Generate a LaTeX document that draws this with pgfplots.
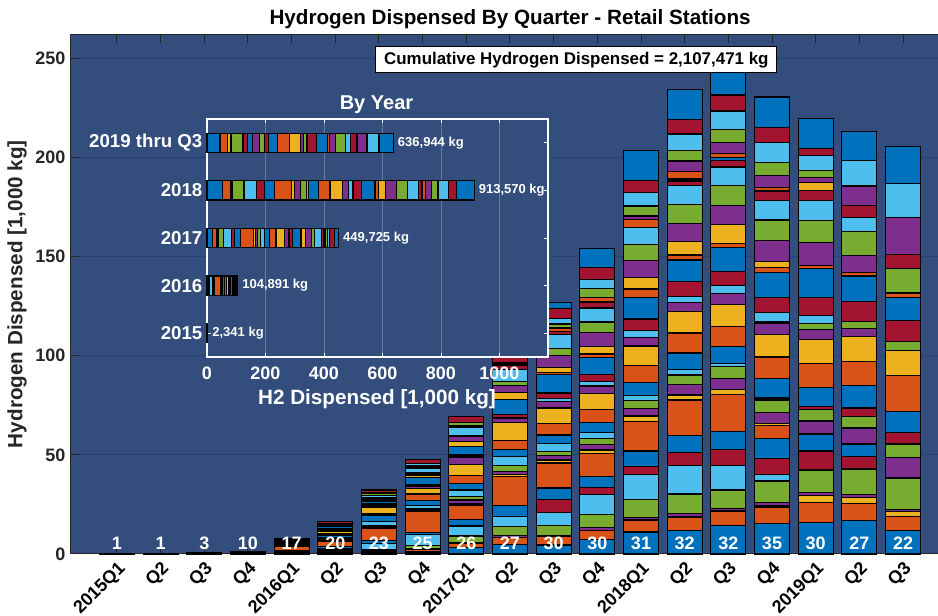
\documentclass[border=0pt]{standalone}
\usepackage{pgfplots}
\usepackage{pgfplotstable}
\pgfplotsset{compat=1.18}
\usepackage{fontspec}
\setmainfont{Liberation Sans}
\newcommand\fs[1]{\fontsize{#1}{#1}\selectfont\bfseries}
\definecolor{bgcol}{RGB}{51,77,125}
\definecolor{gridcol}{RGB}{44,66,108}
\definecolor{igridcol}{RGB}{104,122,160}
\definecolor{tickcol}{RGB}{38,38,38}
\definecolor{mB}{RGB}{0,114,189}
\definecolor{mO}{RGB}{217,83,25}
\definecolor{mY}{RGB}{237,177,32}
\definecolor{mP}{RGB}{126,47,142}
\definecolor{mG}{RGB}{119,172,48}
\definecolor{mL}{RGB}{77,190,238}
\definecolor{mR}{RGB}{162,20,47}
\colorlet{st1}{mB}\colorlet{st2}{mO}\colorlet{st3}{mY}\colorlet{st4}{mP}\colorlet{st5}{mG}\colorlet{st6}{mL}\colorlet{st7}{mR}
\colorlet{st8}{mB}\colorlet{st9}{mO}\colorlet{st10}{mY}\colorlet{st11}{mP}\colorlet{st12}{mG}\colorlet{st13}{mL}\colorlet{st14}{mR}
\colorlet{st15}{mB}\colorlet{st16}{mO}\colorlet{st17}{mY}\colorlet{st18}{mP}\colorlet{st19}{mG}\colorlet{st20}{mL}\colorlet{st21}{mR}
\colorlet{st22}{mB}\colorlet{st23}{mO}\colorlet{st24}{mY}\colorlet{st25}{mP}\colorlet{st26}{mG}\colorlet{st27}{mL}\colorlet{st28}{mR}
\colorlet{st29}{mB}\colorlet{st30}{mO}\colorlet{st31}{mY}\colorlet{st32}{mP}\colorlet{st33}{mG}\colorlet{st34}{mL}\colorlet{st35}{mR}
\colorlet{st36}{mB}

% quarterly hydrogen dispensed per station [1,000 kg]
\pgfplotstableread{
q s1 s2 s3 s4 s5 s6 s7 s8 s9 s10 s11 s12 s13 s14 s15 s16 s17 s18 s19 s20 s21 s22 s23 s24 s25 s26 s27 s28 s29 s30 s31 s32 s33 s34 s35 s36
0  0.25 0 0 0 0 0 0  0 0 0 0 0 0 0  0 0 0 0 0 0 0  0 0 0 0 0 0 0  0 0 0 0 0 0 0  0
1  0.35 0 0 0 0 0 0  0 0 0 0 0 0 0  0 0 0 0 0 0 0  0 0 0 0 0 0 0  0 0 0 0 0 0 0  0
2  0.25 0.15 0 0 0.15 0 0  0 0 0 0 0 0 0  0 0 0 0 0 0 0  0 0 0 0 0 0 0  0 0 0 0 0 0 0  0
3  0.2 0.15 0 0 0.1 0.1 0  0.1 0.2 0 0.1 0.1 0.1 0  0.05 0 0 0 0 0 0  0 0 0 0 0 0 0  0 0 0 0 0 0 0  0
4  0.3 0.4 0 0 0.5 0.4 0  0.3 1.7 0 0.3 0.4 0.3 0  0.4 0.5 0.4 0.3 0 0 0.3  0.4 0 0 0 0 0.3 0  0 0 0 0 0 0 0.4  0
5  0.5 0.6 0 0 0.6 0.8 0  1.4 2.7 0 0.4 0.5 0.6 0  1.5 0.6 1.3 0.5 0 0.4 0.6  0.7 0 0 0.5 0 0.6 0  0 0 0 0 0 0.5 0.9  0
6  0.6 0.6 0 0 0.8 3.2 0  1.7 6.2 0 0.5 0.5 2.2 0  3.4 0.6 3 0.6 0 0.7 0.6  1.5 0 0.6 0.6 0.7 0.8 0  0 0 0 0 1 0.6 1.3  0
7  1.0 1.2 0 0.5 1.5 5.5 0  1.2 10.7 0 0.6 0.8 1.3 0  2.5 3.4 3 0.7 0 0.6 0.6  3.5 0 1.2 0.7 0.6 2.2 0.7  0 0 0 0 0.7 0.8 2  0
8  3.2 2.2 0 0.5 3.2 4.6 0.6  2.9 7.5 0.5 2 1.7 3.4 0  3.4 3.9 5.5 3.4 0 0.6 0.8  4.2 0 2.5 2.5 0.7 4.2 0.6  0 0 0 0 1.7 0 2.9  0
9  4.9 3.4 0 1 4.5 5 0  5.6 14.5 1.2 1.3 3.2 4.4 0  3.7 4.5 8.9 2.5 0 0 1.7  7.6 0 3.7 3.5 2 5.9 2.2  0 0.5 0 0 0.5 0.5 2.7  0.5
10 4.5 4.2 0 0.6 5 6.7 6.4  5.9 12.6 1.5 2.2 2 3.9 0  4.5 5.9 7.7 3.2 0 1.7 2.7  9.1 1.3 2.5 5.9 3.4 7.1 1.7  0 1.7 0 0 2 2.7 5.1  3
11 7.4 4.5 0 1.3 6.7 10.1 3.4  5.6 11.5 1.9 2.7 3 3 0  5.1 6.7 8.1 3.7 0 2.2 3.4  8.8 1.7 3.9 7.1 5.1 7.1 3  0 2.5 0 0 4.2 4.7 5.9  9.6
12 11.1 5.9 0.3 1.2 8.8 12.6 4.4  7.6 15 2.7 3.7 4.2 2.5 0  6.4 8.8 9.6 4.4 0 3.4 5.9  10.9 4.2 5.7 8.6 8.2 8.4 0  0 4.2 0 1.7 5 6.7 6.1  15
13 12 6.7 0 1.7 9.8 14.6 6.4  8.4 18 2.5 5.2 4.9 3 0  8.1 10.1 10.9 4.5 0 3 7.6  10.8 2.5 6.7 9.3 9.3 9.6 2.4  1 3.7 0 5.4 5.2 8.4 7.4  15.2
14 14.5 7.2 0 1.2 9.4 12.5 7.7  9.4 18.7 2.5 5.4 6.1 1.3 0  8.6 10.3 10.8 5.6 0 4.2 7.2  12.1 2 9.3 9.6 10.1 9.4 3.4  1.3 2 0 5.6 6.6 9.3 8.1  14.6
15 15.3 8.4 0.5 1.7 10.9 3.4 8.1  10.1 6.2 1.2 5.6 6.2 0.6 0.4  9.8 10.9 11.4 5.7 0.5 4.7 7.9  12.5 2.5 2.9 10.6 10.4 9.8 4.5  0.5 1.7 0 5.9 6.4 10.1 7.6  15.5
16 15.8 10.1 3.7 1.3 11.4 0 9.6  8.4 0.5 0 6.2 5.9 0 1.3  9.6 12.3 12.1 5.1 3 3.9 9.3  14.3 1.7 0 11.6 10.9 10.1 5.1  0 0 3.9 2.5 3.7 7.6 3.4  15.2
17 16.7 8.9 2.9 1.3 13 0 6.4  6.2 0.5 0 7.6 5.9 0 4.2  11.3 12.3 12.6 3.7 3.5 0 10.1  13 2 0 8.4 12 7.1 6.2  0 0 0 9.4 0.6 12.5 0  14.5
18 12 6.9 2.5 1.2 15.7 0 0  0.4 0 0 10.1 6.6 0 5.9  10.6 18 12.8 0 4.5 0 10.6  11.3 2.2 0 0.5 12.1 0 7.1  0 0 0 18.5 0 17.3 0  18.5
}\qdata

% yearly totals per station [1,000 kg]
\pgfplotstableread{
yr s1 s2 s3 s4 s5 s6 s7 s8 s9 s10 s11 s12 s13 s14 s15 s16 s17 s18 s19 s20 s21 s22 s23 s24 s25 s26 s27 s28 s29 s30 s31 s32 s33 s34 s35 s36
1 1.05 0.3 0 0 0.25 0.1 0  0.1 0.2 0 0.1 0.1 0.1 0  0.05 0 0 0 0 0 0  0 0 0 0 0 0 0  0 0 0 0 0 0 0  0
2 2.4 2.8 0 0.5 3.4 9.9 0  4.6 21.3 0 1.8 2.2 4.4 0  7.8 5.1 7.7 2.1 0 1.7 2.1  6.1 0 1.8 1.8 1.3 3.9 0.7  0 0 0 0 1.7 1.9 4.6  0
3 20 14.3 0 3.4 19.4 26.4 10.4  20 46.1 5.1 8.2 9.9 14.7 0  16.7 21 30.2 12.8 0 4.5 8.6  29.7 3 12.6 19 11.2 24.3 7.5  0 4.7 0 0 8.4 7.9 16.6  13.1
4 52.9 28.2 0.8 5.8 38.9 43.1 26.6  35.5 57.9 8.9 19.9 21.4 7.4 0.4  32.9 40.1 42.7 20.2 0.5 15.3 28.6  46.3 11.2 24.6 38.1 38 37.2 10.3  2.8 11.6 0 18.6 23.2 34.5 29.2  60.3
5 44.5 25.9 9.1 3.8 40.1 0 16  15 1 0 23.9 18.4 0 11.4  31.5 42.6 37.5 8.8 11 3.9 30  38.6 5.9 0 20.5 35 17.2 18.4  0 0 3.9 30.4 4.3 37.4 3.4  48.2
}\ydata

\begin{document}
\begin{tikzpicture}[
  cntlbl/.style={text=white, font=\fs{13.5}},
  vallbl/.style={anchor=west, text=white, font=\fs{9.75}},
]
\useasboundingbox (0pt,0pt) rectangle (703.5pt,462pt);
\begin{axis}[
  at={(52.5pt,46.5pt)}, anchor=south west,
  scale only axis, width=657.5pt, height=389.8pt,
  xmin=-1.076, xmax=19, ymin=0, ymax=262,
  ybar stacked, bar width=0.8,
  clip=false,
  axis background/.style={fill=bgcol},
  xtick={0,...,18},
  xticklabels={2015Q1,Q2,Q3,Q4,2016Q1,Q2,Q3,Q4,2017Q1,Q2,Q3,Q4,2018Q1,Q2,Q3,Q4,2019Q1,Q2,Q3},
  ytick={0,50,...,250},
  ymajorgrids, major grid style={gridcol, line width=0.75pt},
  tick align=inside, major tick length=6.75pt,
  every tick/.style={tickcol, line width=0.75pt},
  axis line style={tickcol, line width=0.75pt},
  /pgf/number format/assume math mode=true,
  x tick label style={rotate=45, anchor=north east, font=\fs{13.5}, text=black},
  y tick label style={font=\fs{13.5}, text=tickcol},
  every axis title shift=0pt,
  title={Hydrogen Dispensed By Quarter - Retail Stations},
  title style={at={(axis description cs:0.502,1.0179)}, anchor=base, font=\fs{15.5}, text=black},
  ylabel={Hydrogen Dispensed [1,000 kg]},
  ylabel style={at={(axis description cs:-0.0543,0.5)}, anchor=base, font=\fs{15.5}, text=tickcol},
  after end axis/.code={
    \node[cntlbl] at (axis cs:0,5.5) {1};
    \node[cntlbl] at (axis cs:1,5.5) {1};
    \node[cntlbl] at (axis cs:2,5.5) {3};
    \node[cntlbl] at (axis cs:3,5.5) {10};
    \node[cntlbl] at (axis cs:4,5.5) {17};
    \node[cntlbl] at (axis cs:5,5.5) {20};
    \node[cntlbl] at (axis cs:6,5.5) {23};
    \node[cntlbl] at (axis cs:7,5.5) {25};
    \node[cntlbl] at (axis cs:8,5.5) {26};
    \node[cntlbl] at (axis cs:9,5.5) {27};
    \node[cntlbl] at (axis cs:10,5.5) {30};
    \node[cntlbl] at (axis cs:11,5.5) {30};
    \node[cntlbl] at (axis cs:12,5.5) {31};
    \node[cntlbl] at (axis cs:13,5.5) {32};
    \node[cntlbl] at (axis cs:14,5.5) {32};
    \node[cntlbl] at (axis cs:15,5.5) {35};
    \node[cntlbl] at (axis cs:16,5.5) {30};
    \node[cntlbl] at (axis cs:17,5.5) {27};
    \node[cntlbl] at (axis cs:18,5.5) {22};
    \node[draw=black, fill=white, line width=0.9pt, font=\fs{12.7}, text=black,
          minimum width=300.75pt, minimum height=19.5pt, inner sep=0pt]
          at (axis cs:10.52,249.1) {Cumulative Hydrogen Dispensed = 2,107,471 kg};
  },
]
\pgfplotsinvokeforeach{1,...,36}{
  \addplot[fill=st#1, draw=black, line width=0.9pt] table[x=q, y=s#1] {\qdata};
}
\end{axis}

\begin{axis}[
  at={(155.25pt,194.25pt)}, anchor=south west,
  scale only axis, width=255.75pt, height=178.5pt,
  xbar stacked, bar width=0.4,
  xmin=0, xmax=1166, ymin=0.5, ymax=5.5,
  clip=false,
  axis background/.style={fill=bgcol},
  xtick={0,200,...,1000}, ytick={1,...,5},
  yticklabels={2015,2016,2017,2018,2019 thru Q3},
  xmajorgrids, major grid style={igridcol, line width=0.5pt},
  tick align=inside, major tick length=3pt,
  every tick/.style={white, line width=0.6pt},
  axis line style={white, line width=0.9pt},
  /pgf/number format/1000 sep={},
  /pgf/number format/assume math mode=true,
  x tick label style={font=\fs{13.5}, text=white, anchor=base, yshift=-17.25pt},
  y tick label style={font=\fs{14}, text=white},
  every axis title shift=0pt,
  title={By Year},
  title style={at={(axis description cs:0.497,1.0378)}, anchor=base, font=\fs{15}, text=white},
  xlabel={H2 Dispensed [1,000 kg]},
  xlabel style={at={(axis description cs:0.4985,-0.2017)}, anchor=base, font=\fs{15.5}, text=white},
  after end axis/.code={
    \node[vallbl] at (axis cs:2.341,1) {2,341 kg};
    \node[vallbl] at (axis cs:104.891,2) {104,891 kg};
    \node[vallbl] at (axis cs:449.725,3) {449,725 kg};
    \node[vallbl] at (axis cs:913.570,4) {913,570 kg};
    \node[vallbl] at (axis cs:636.944,5) {636,944 kg};
  },
]
\pgfplotsinvokeforeach{1,...,36}{
  \addplot[fill=st#1, draw=black, line width=0.9pt] table[x=s#1, y=yr] {\ydata};
}
\end{axis}
\end{tikzpicture}
\end{document}
